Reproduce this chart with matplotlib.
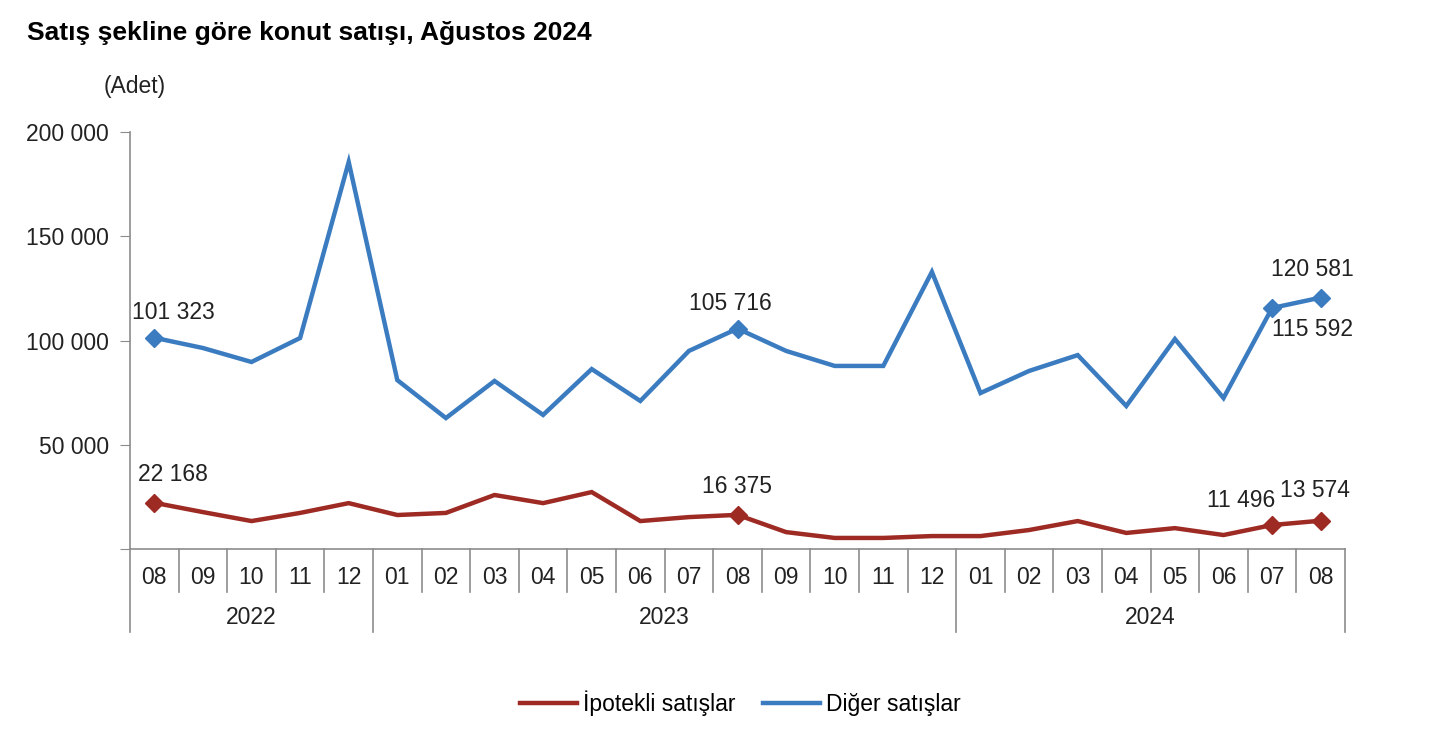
import matplotlib
matplotlib.use("Agg")
import matplotlib.pyplot as plt
import matplotlib.transforms as mtransforms

plt.rcParams['font.family'] = ['Liberation Sans', 'DejaVu Sans']

months = ["08", "09", "10", "11", "12",
          "01", "02", "03", "04", "05", "06", "07", "08", "09", "10", "11", "12",
          "01", "02", "03", "04", "05", "06", "07", "08"]
years = ["2022", "2023", "2024"]
year_counts = [5, 12, 8]

ipotekli = [22168, 17700, 13400, 17300, 22000,
            16300, 17300, 25900, 22000, 27300, 13400, 15300, 16375, 8100, 5300, 5300, 6200,
            6200, 9100, 13400, 7700, 10000, 6700, 11496, 13574]
diger = [101323, 96400, 89700, 101200, 185600,
         81000, 62800, 80600, 64300, 86300, 71000, 95000, 105716, 95000, 87800, 87800, 132900,
         74800, 85400, 93000, 68600, 100700, 72400, 115592, 120581]

# labelled points: index -> (dx, dy) in pixels
ipotekli_labels = {0: (19, 28), 12: (0, 28), 23: (-31, 25), 24: (-6, 30)}
diger_labels = {0: (19, 25), 12: (-7, 25), 23: (40, -22), 24: (-8, 28)}

RED = "#9e2a24"
BLUE = "#3b7cc1"
GRAY = "#8c8c8c"
TXT = "#222222"
FS = 16.5


def fmt(v):
    return f"{v:,}".replace(",", " ")


fig = plt.figure(figsize=(14.36, 7.44), dpi=100)
ax = fig.add_axes([130 / 1436, 1 - 549 / 744, (1345 - 130) / 1436, (549 - 132) / 744])

x = list(range(len(months)))
ax.plot(x, ipotekli, color=RED, lw=3.2, solid_joinstyle="miter", label="İpotekli satışlar", zorder=3)
ax.plot(x, diger, color=BLUE, lw=3.2, solid_joinstyle="miter", label="Diğer satışlar", zorder=3)

for i, (dx, dy) in ipotekli_labels.items():
    ax.plot(i, ipotekli[i], marker="D", ms=9, color=RED, zorder=4)
    ax.annotate(fmt(ipotekli[i]), (i, ipotekli[i]), xytext=(dx, dy), textcoords="offset pixels",
                ha="center", va="center", fontsize=FS, color=TXT)
for i, (dx, dy) in diger_labels.items():
    ax.plot(i, diger[i], marker="D", ms=9, color=BLUE, zorder=4)
    ax.annotate(fmt(diger[i]), (i, diger[i]), xytext=(dx, dy), textcoords="offset pixels",
                ha="center", va="center", fontsize=FS, color=TXT)

ax.set_xlim(-0.5, len(months) - 0.5)
ax.set_ylim(0, 200000)
ax.set_yticks([0, 50000, 100000, 150000, 200000])
ax.set_yticklabels(["", "50 000", "100 000", "150 000", "200 000"])
ax.tick_params(axis="y", direction="out", length=7, color=GRAY, labelsize=FS, pad=8, labelcolor=TXT)
ax.set_xticks([])
for s in ["top", "right"]:
    ax.spines[s].set_visible(False)
for s in ["left", "bottom"]:
    ax.spines[s].set_color(GRAY)
    ax.spines[s].set_linewidth(1.2)

# category axis: month row and year row with separators
trans = mtransforms.blended_transform_factory(ax.transData, ax.transAxes)
px = 1 / (549 - 132)
year_edges = [-0.5]
for c in year_counts:
    year_edges.append(year_edges[-1] + c)
for i in range(len(months) + 1):
    xe = i - 0.5
    bottom = -83 * px if xe in year_edges else -43 * px
    ax.plot([xe, xe], [0, bottom], transform=trans, color=GRAY, lw=1.2, clip_on=False)
for i, m in enumerate(months):
    ax.text(i, -29 * px, m, transform=trans, ha="center", va="center", fontsize=FS, color=TXT)
for j, y in enumerate(years):
    xc = (year_edges[j] + year_edges[j + 1]) / 2
    ax.text(xc, -69 * px, y, transform=trans, ha="center", va="center", fontsize=FS, color=TXT)

fig.text(27 / 1436, 1 - 33 / 744, "Satış şekline göre konut satışı, Ağustos 2024",
         fontsize=19, fontweight="bold", ha="left", va="center")
fig.text(135 / 1436, 1 - 87 / 744, "(Adet)", fontsize=FS, ha="center", va="center", color=TXT)

fig.legend(loc="center", bbox_to_anchor=(740 / 1436, 1 - 703 / 744), ncol=2, frameon=False,
           fontsize=FS, handlelength=2.5, handletextpad=0.25, columnspacing=1.2)

fig.savefig("out.png", dpi=100, facecolor="white")
